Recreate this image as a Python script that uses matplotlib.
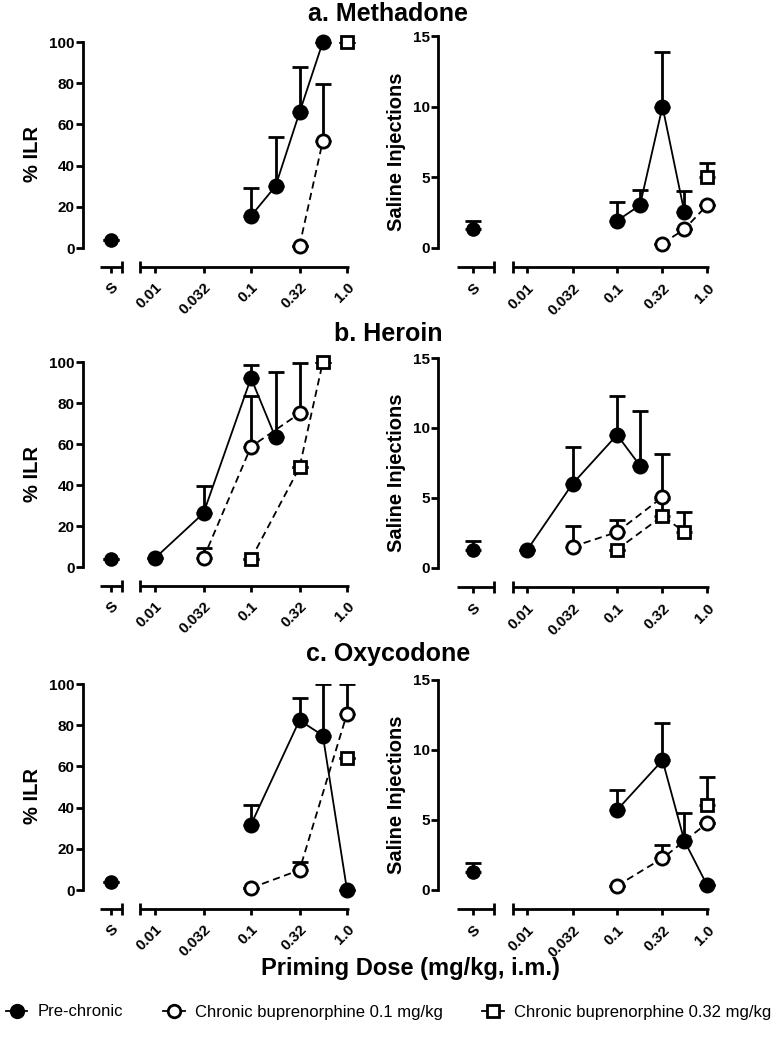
import matplotlib
matplotlib.use('Agg')
import matplotlib.pyplot as plt
from matplotlib.lines import Line2D
import numpy as np

plt.rcParams['font.family'] = ['Liberation Sans', 'DejaVu Sans']

# tick positions / labels on the dose axis
dose_ticks = [0.01, 0.032, 0.1, 0.32, 1.0]
dose_labels = ['0.01', '0.032', '0.1', '0.32', '1.0']

# ---- a. Methadone ----
meth_pre_dose = [0.1, 0.18, 0.32, 0.56]
meth_pre_ilr = [15.6, 30, 65.8, 100]
meth_pre_ilr_err = [13.4, 23.7, 22.2, 0]
meth_pre_sal = [1.9, 3.0, 10.0, 2.5]
meth_pre_sal_err = [1.3, 1.1, 3.9, 1.5]
meth_c01_dose = [0.32, 0.56]
meth_c01_ilr = [1.1, 52]
meth_c01_ilr_err = [0, 27.5]
meth_c01_sal_dose = [0.32, 0.56, 1.0]
meth_c01_sal = [0.28, 1.3, 3.0]
meth_c01_sal_err = [0, 0, 0]
meth_c032_dose = [1.0]
meth_c032_ilr = [100]
meth_c032_ilr_err = [0]
meth_c032_sal = [5.0]
meth_c032_sal_err = [1.0]

# ---- b. Heroin ----
her_pre_dose = [0.01, 0.032, 0.1, 0.18]
her_pre_ilr = [4.4, 26.3, 92.2, 63.2]
her_pre_ilr_err = [0, 13.4, 6.2, 31.9]
her_pre_sal = [1.26, 6.0, 9.5, 7.3]
her_pre_sal_err = [0, 2.6, 2.8, 3.9]
her_c01_dose = [0.032, 0.1, 0.32]
her_c01_ilr = [4.4, 58.7, 74.9]
her_c01_ilr_err = [4.8, 24.6, 24.8]
her_c01_sal = [1.5, 2.55, 5.05]
her_c01_sal_err = [1.5, 0.83, 3.05]
her_c032_dose = [0.1, 0.32, 0.56]
her_c032_ilr = [3.9, 48.6, 100]
her_c032_ilr_err = [0, 0, 0]
her_c032_sal = [1.3, 3.7, 2.55]
her_c032_sal_err = [0, 1.2, 1.45]

# ---- c. Oxycodone ----
oxy_pre_dose = [0.1, 0.32, 0.56, 1.0]
oxy_pre_ilr = [31.8, 82.4, 75, 0]
oxy_pre_ilr_err = [9.7, 10.8, 25, 0]
oxy_pre_sal = [5.7, 9.26, 3.5, 0.33]
oxy_pre_sal_err = [1.4, 2.64, 1.97, 0]
oxy_c01_dose = [0.1, 0.32, 1.0]
oxy_c01_ilr = [1.0, 9.7, 85.6]
oxy_c01_ilr_err = [0, 3.9, 14.4]
oxy_c01_sal = [0.28, 2.25, 4.75]
oxy_c01_sal_err = [0, 0.95, 0]
oxy_c032_dose = [1.0]
oxy_c032_ilr = [64.1]
oxy_c032_ilr_err = [0]
oxy_c032_sal = [6.05]
oxy_c032_sal_err = [2.0]

# saline (S) baseline, same in every drug
sal_ilr = 3.9
sal_ilr_err = 0
sal_inj = 1.28
sal_inj_err = 0.62

W, H = 777, 1038
fig = plt.figure(figsize=(W / 100, H / 100), dpi=100)


def px_axes(x0, y_top, x1, y_bot):
    return fig.add_axes([x0 / W, 1 - y_bot / H, (x1 - x0) / W, (y_bot - y_top) / H])


def series(ax, x, y, err, marker, filled, ls):
    ax.errorbar(x, y, yerr=[np.zeros(len(err)), err], fmt='none', ecolor='black',
                elinewidth=2, capsize=6, capthick=2, zorder=2)
    ax.plot(x, y, ls=ls, color='black', lw=1.3, marker=marker, ms=9.5 if marker == 'o' else 9,
            mfc='black' if filled else 'white', mec='black', mew=2, zorder=3, clip_on=False,
            dashes=(4, 2.5) if ls == '--' else (None, None))


def panel(ax, ymax, yticks, ylabel, s_pos, s_seg, d_seg, xlim, sal, sal_err, sets):
    ax.set_xscale('log')
    ax.set_xlim(*xlim)
    ybot = -ymax * 0.092
    ax.set_ylim(ybot, ymax)
    for sp in ['top', 'right', 'bottom']:
        ax.spines[sp].set_visible(False)
    ax.spines['left'].set_linewidth(2)
    ax.spines['left'].set_bounds(0, ymax)
    ax.set_yticks(yticks)
    ax.tick_params(axis='y', width=2, length=5, labelsize=11, pad=1)
    for t in ax.get_yticklabels():
        t.set_fontweight('bold')
    ax.set_xticks([])
    ax.minorticks_off()
    ax.set_ylabel(ylabel, fontsize=14.5, fontweight='bold', labelpad=5)

    # broken x axis drawn under the plot
    tr = ax.get_xaxis_transform()
    kw = dict(color='black', lw=2, transform=tr, clip_on=False, solid_capstyle='butt')
    ax.plot(s_seg, [0, 0], **kw)
    ax.plot([s_seg[1]] * 2, [-0.025, 0.025], **kw)
    ax.plot(d_seg, [0, 0], **kw)
    ax.plot([d_seg[0]] * 2, [-0.025, 0.025], **kw)
    for xt in [s_pos] + dose_ticks:
        ax.plot([xt, xt], [0, -0.025], **kw)
    for xt, lab in zip([s_pos] + dose_ticks, ['S'] + dose_labels):
        ax.text(xt, -0.06, lab, transform=tr, rotation=45, ha='right', va='top',
                rotation_mode='anchor', fontsize=11, fontweight='bold')

    ax.errorbar([s_pos], [sal], yerr=[[0], [sal_err]], fmt='none', ecolor='black',
                elinewidth=2, capsize=6, capthick=2, zorder=2)
    ax.plot([s_pos], [sal], 'o', color='black', ms=9.5, zorder=3)
    for x, y, err, marker, filled, ls in sets:
        series(ax, x, y, err, marker, filled, ls)


# per-column geometry (pixels and log positions)
left_x = dict(x0=83, x1=357, xlim=(10 ** -2.75, 10 ** 0.104), s_pos=10 ** -2.458,
              s_seg=(10 ** -2.57, 10 ** -2.34), d_seg=(10 ** -2.156, 10 ** 0.02))
right_x = dict(x0=438, x1=718, xlim=(10 ** -2.99, 10 ** 0.122), s_pos=10 ** -2.6,
               s_seg=(10 ** -2.78, 10 ** -2.37), d_seg=(10 ** -2.156, 10 ** 0.02))

rows = [
    ('a. Methadone', 14, (42, 267), (36, 267),
     [(meth_pre_dose, meth_pre_ilr, meth_pre_ilr_err, 'o', True, '-'),
      (meth_c01_dose, meth_c01_ilr, meth_c01_ilr_err, 'o', False, '--'),
      (meth_c032_dose, meth_c032_ilr, meth_c032_ilr_err, 's', False, '--')],
     [(meth_pre_dose, meth_pre_sal, meth_pre_sal_err, 'o', True, '-'),
      (meth_c032_dose, meth_c032_sal, meth_c032_sal_err, 's', False, '--'),
      (meth_c01_sal_dose, meth_c01_sal, meth_c01_sal_err, 'o', False, '--')]),
    ('b. Heroin', 334, (362, 586), (358, 587),
     [(her_pre_dose, her_pre_ilr, her_pre_ilr_err, 'o', True, '-'),
      (her_c032_dose, her_c032_ilr, her_c032_ilr_err, 's', False, '--'),
      (her_c01_dose, her_c01_ilr, her_c01_ilr_err, 'o', False, '--')],
     [(her_pre_dose, her_pre_sal, her_pre_sal_err, 'o', True, '-'),
      (her_c032_dose, her_c032_sal, her_c032_sal_err, 's', False, '--'),
      (her_c01_dose, her_c01_sal, her_c01_sal_err, 'o', False, '--')]),
    ('c. Oxycodone', 654, (684, 909), (680, 909),
     [(oxy_pre_dose, oxy_pre_ilr, oxy_pre_ilr_err, 'o', True, '-'),
      (oxy_c032_dose, oxy_c032_ilr, oxy_c032_ilr_err, 's', False, '--'),
      (oxy_c01_dose, oxy_c01_ilr, oxy_c01_ilr_err, 'o', False, '--')],
     [(oxy_pre_dose, oxy_pre_sal, oxy_pre_sal_err, 'o', True, '-'),
      (oxy_c032_dose, oxy_c032_sal, oxy_c032_sal_err, 's', False, '--'),
      (oxy_c01_dose, oxy_c01_sal, oxy_c01_sal_err, 'o', False, '--')]),
]

for title, ty, (lt, lb), (rt, rb), lsets, rsets in rows:
    fig.text(388 / W, 1 - ty / H, title, ha='center', va='center', fontsize=18, fontweight='bold')
    axl = px_axes(left_x['x0'], lt, left_x['x1'], lb)
    panel(axl, 100, [0, 20, 40, 60, 80, 100], '% ILR', left_x['s_pos'], left_x['s_seg'],
          left_x['d_seg'], left_x['xlim'], sal_ilr, sal_ilr_err, lsets)
    axr = px_axes(right_x['x0'], rt, right_x['x1'], rb)
    panel(axr, 15, [0, 5, 10, 15], 'Saline Injections', right_x['s_pos'], right_x['s_seg'],
          right_x['d_seg'], right_x['xlim'], sal_inj, sal_inj_err, rsets)

fig.text(410 / W, 1 - 968 / H, 'Priming Dose (mg/kg, i.m.)', ha='center', va='center',
         fontsize=17, fontweight='bold')

# legend row
handles = [Line2D([], [], color='black', lw=1.3, marker='o', ms=9, mfc='black', mew=2),
           Line2D([], [], color='black', lw=1.3, marker='o', ms=9, mfc='white', mew=2),
           Line2D([], [], color='black', lw=1.3, marker='s', ms=9, mfc='white', mew=2)]
labels = ['Pre-chronic', 'Chronic buprenorphine 0.1 mg/kg', 'Chronic buprenorphine 0.32 mg/kg']
fig.legend(handles, labels, loc='center', bbox_to_anchor=(0.5, 1 - 1012 / H), ncol=3,
           frameon=False, handlelength=1.3, handletextpad=0.6, columnspacing=2.4,
           prop={'size': 12})

fig.savefig('out.png', dpi=100)
